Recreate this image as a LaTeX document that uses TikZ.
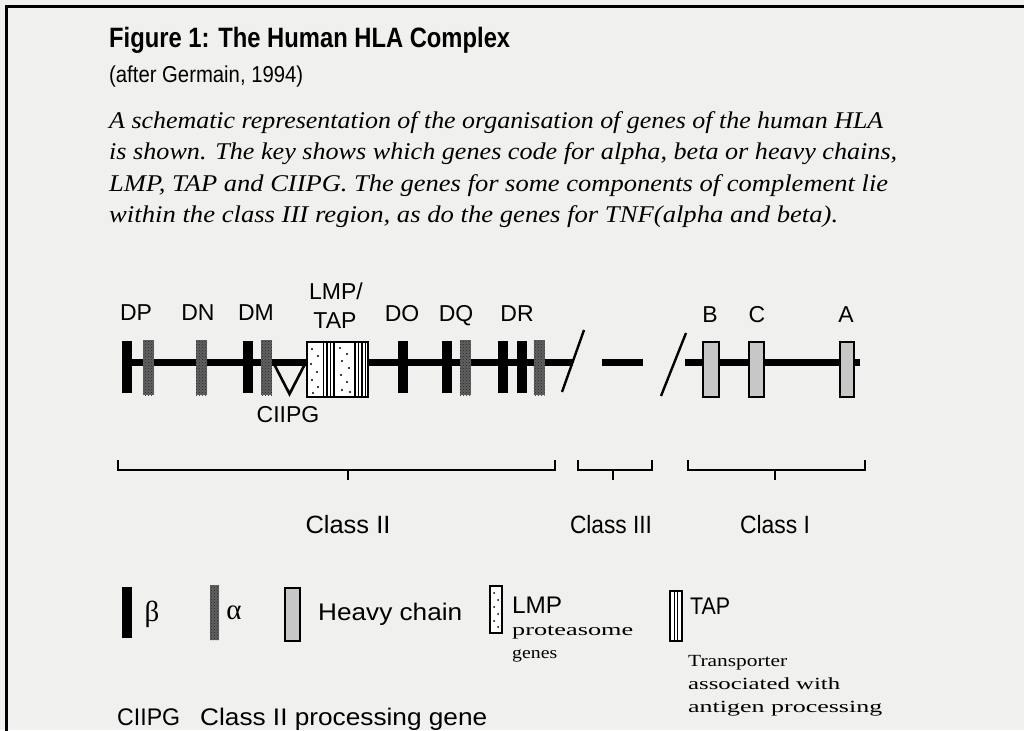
\documentclass[tikz,border=0pt]{standalone}
\usepackage{fontspec}
\usepackage{graphicx}
\setmainfont{Liberation Serif}
\newfontfamily\hv{Liberation Sans}
\usetikzlibrary{patterns}
\definecolor{bg}{RGB}{240,240,238}
\newcommand\sw[2]{\resizebox{#1pt}{\height}{#2}}
\begin{document}
\begin{tikzpicture}[x=1pt,y=-1pt,
  txt/.style={anchor=base west,inner sep=0pt},
  ctxt/.style={anchor=base,inner sep=0pt},
  lab/.style={anchor=base,inner sep=0pt,font=\hv\fontsize{23}{23}\selectfont},
  leg/.style={anchor=base west,inner sep=0pt,font=\hv\fontsize{24}{24}\selectfont},
  sleg/.style={anchor=base west,inner sep=0pt,font=\fontsize{17}{17}\selectfont},
  betabar/.style={fill=black,draw=none},
  alphabar/.style={fill=black!62,draw=none,postaction={pattern=crosshatch dots,pattern color=black!85}},
  heavy/.style={fill=black!22,draw=black,line width=2.4pt},
  cbox/.style={draw=black,line width=2.8pt},
  chrom/.style={line width=7pt},
  brk/.style={line width=1.6pt},
  slash/.style={line width=2.4pt}]
\useasboundingbox (0,0) rectangle (1024,730);
\fill[bg] (0,0) rectangle (1024,730);
% frame
\draw[line width=3pt] (6,732) -- (6,7) -- (1026,7);
% title
\node[txt,font=\hv\bfseries\fontsize{28}{28}\selectfont] (title) at (109,48) {\sw{401}{Figure 1: The Human HLA Complex}};
\node[txt,font=\hv\fontsize{23}{23}\selectfont] (after) at (109,83) {\sw{194}{(after Germain, 1994)}};
\begin{scope}[every node/.style={txt,font=\itshape\fontsize{24}{24}\selectfont}]
\node (p1) at (109,129) {\sw{774}{A schematic representation of the organisation of genes of the human HLA}};
\node (p2) at (109,160) {\sw{788}{is shown. The key shows which genes code for alpha, beta or heavy chains,}};
\node (p3) at (109,191) {\sw{779}{LMP, TAP and CIIPG. The genes for some components of complement lie}};
\node (p4) at (109,222) {\sw{729}{within the class III region, as do the genes for TNF(alpha and beta).}};
\end{scope}
% chromosome lines
\draw[chrom] (122,362) -- (573,362);
\draw[chrom] (602,362) -- (643,362);
\draw[chrom] (685,362) -- (860,362);
\draw[slash] (562,392) -- (584,330);
\draw[slash] (661,396) -- (686,333);
% beta bars
\foreach \a in {122,243,398,442,498,517}{\fill[betabar] (\a,341) rectangle ++(10,52);}
% alpha bars
\foreach \a in {143,196,261,459.5,533.5}{\path[alphabar] (\a,340) rectangle ++(11,55);}
% CIIPG triangle
\draw[line width=2.6pt,line join=miter] (273,362) -- (289.5,394) -- (306,362);
% LMP/TAP box
\fill[white] (307,342) rectangle (368,397);
\foreach \x/\y in {312/349,318/356,311/364,317/372,312/380,318/387,313/393,340/348,347/354,342/361,349/368,341/375,347/382,342/390,350/392}{\fill (\x,\y) circle (1.1);}
\foreach \x in {323.5,327,330.5,334,355,358.5,362,365.5}{\draw[line width=1.6pt] (\x,342) -- (\x,397);}
\draw[cbox] (307,342) rectangle (368,397);
% heavy chain boxes
\draw[heavy] (703,342) rectangle (719,397);
\draw[heavy] (749,342) rectangle (764,397);
\draw[heavy] (840,342) rectangle (854,397);
% gene labels
\node[lab] (dp) at (136,320) {DP};
\node[lab] (dn) at (198,320) {DN};
\node[lab] (dm) at (256,320) {DM};
\node[lab] (lmp) at (336,299) {LMP/};
\node[lab] (tap) at (335,328) {TAP};
\node[lab] (do) at (402,321) {DO};
\node[lab] (dq) at (456,321) {DQ};
\node[lab] (dr) at (517,321) {DR};
\node[lab] (ciipg) at (288,422) {CIIPG};
\node[lab] (b) at (710,322) {B};
\node[lab] (c) at (757,322) {C};
\node[lab] (a) at (846,322) {A};
% brackets
\draw[brk] (118,460) -- (118,470) -- (555,470) -- (555,460);
\draw[brk] (348,470) -- (348,480);
\draw[brk] (578,460) -- (578,470) -- (652,470) -- (652,460);
\draw[brk] (613,470) -- (613,480);
\draw[brk] (688,460) -- (688,470) -- (865,470) -- (865,460);
\draw[brk] (775,470) -- (775,480);
\begin{scope}[every node/.style={ctxt,font=\hv\fontsize{25}{25}\selectfont}]
\node (c2) at (348,533) {\sw{85}{Class II}};
\node (c3) at (611,533) {\sw{82}{Class III}};
\node (c1) at (775,533) {\sw{70}{Class I}};
\end{scope}
% legend
\fill[betabar] (122,587) rectangle (132,638);
\node[ctxt,font=\fontsize{29}{29}\selectfont] (lb) at (152,621) {β};
\path[alphabar] (210,585) rectangle (219,640);
\node[ctxt,font=\fontsize{29}{29}\selectfont] (la) at (234,619) {α};
\draw[heavy] (285,588) rectangle (300,641);
\node[leg] (lh) at (318,620) {\sw{144}{Heavy chain}};
\fill[white] (490,586) rectangle (502,633);
\foreach \x/\y in {494/593,498/600,494/607,498/614,494/621,498/627}{\fill (\x,\y) circle (1.0);}
\draw[line width=2.4pt] (490,586) rectangle (502,633);
\node[leg] (ll) at (512,613) {\sw{50}{LMP}};
\node[sleg] (ll2) at (512,635) {\sw{121}{proteasome}};
\node[sleg] (ll3) at (512,658) {\sw{45}{genes}};
\fill[white] (670,591) rectangle (682,641);
\draw[line width=1.4pt] (674.5,591) -- (674.5,641) (677.5,591) -- (677.5,641);
\draw[line width=2.4pt] (670,591) rectangle (682,641);
\node[leg] (lt) at (690,614) {\sw{40}{TAP}};
\node[sleg] (lt2) at (688,666) {\sw{99}{Transporter}};
\node[sleg] (lt3) at (688,689) {\sw{152}{associated with}};
\node[sleg] (lt4) at (688,712) {\sw{194}{antigen processing}};
\node[leg] (lc) at (117,725) {\sw{63}{CIIPG}};
\node[leg] (lc2) at (200,725) {\sw{287}{Class II processing gene}};
\end{tikzpicture}
\end{document}
